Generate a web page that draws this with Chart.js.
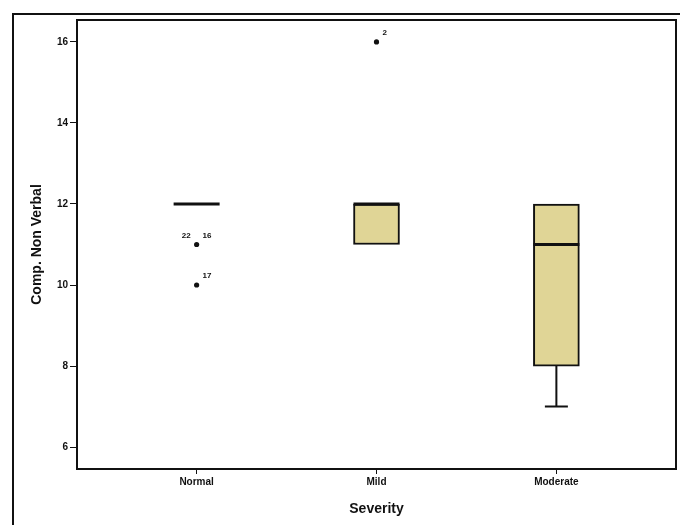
<!DOCTYPE html>
<html>
<head>
<meta charset="utf-8">
<script src="https://cdn.jsdelivr.net/npm/chart.js@4.4.1/dist/chart.umd.min.js"></script>
<style>
  html, body { margin: 0; padding: 0; background: #fff; }
  canvas { display: block; }
</style>
</head>
<body>
<canvas id="c" width="680" height="525"></canvas>
<script>
// Box plot of Comp. Non Verbal scores by severity group
const categories   = ['Normal', 'Mild', 'Moderate'];
const whiskerLow   = [12, 11, 7];
const quartile1    = [12, 11, 8];
const medians      = [12, 12, 11];
const quartile3    = [12, 12, 12];
const whiskerHigh  = [12, 12, 12];

// Outlying cases: group position (1-based), value, case numbers
const outlierCategory = [1, 1, 2];
const outlierValues   = [11, 10, 16];
const outlierCases    = [['22', '16'], ['17'], ['2']];

const yTickValues = [6, 8, 10, 12, 14, 16];

const BOX_FILL = '#e0d596';
const INK = '#111';
const FONT = '"Liberation Sans", Arial, sans-serif';

const boxParts = {
  id: 'boxParts',
  afterDatasetsDraw(chart) {
    const { ctx, scales: { x, y } } = chart;
    const meta = chart.getDatasetMeta(0);
    ctx.save();
    ctx.strokeStyle = INK;
    ctx.lineCap = 'butt';
    categories.forEach((c, i) => {
      const cx = x.getPixelForValue(i + 1);
      const bar = meta.data[i];
      const half = bar ? bar.width / 2 : 23;
      // whiskers and caps
      ctx.lineWidth = 2;
      [[quartile1[i], whiskerLow[i]], [quartile3[i], whiskerHigh[i]]].forEach(([from, to]) => {
        if (from === to) return;
        const y0 = y.getPixelForValue(from), y1 = y.getPixelForValue(to);
        ctx.beginPath();
        ctx.moveTo(cx, y0); ctx.lineTo(cx, y1);
        ctx.moveTo(cx - half / 2, y1); ctx.lineTo(cx + half / 2, y1);
        ctx.stroke();
      });
      // median
      const my = y.getPixelForValue(medians[i]);
      ctx.lineWidth = 3;
      ctx.beginPath();
      ctx.moveTo(cx - half, my); ctx.lineTo(cx + half, my);
      ctx.stroke();
    });
    // case numbers beside outlying points
    ctx.fillStyle = INK;
    ctx.font = 'bold 8px ' + FONT;
    ctx.textBaseline = 'middle';
    outlierValues.forEach((v, k) => {
      const px = x.getPixelForValue(outlierCategory[k]);
      const py = y.getPixelForValue(v) - 9;
      const ids = outlierCases[k];
      if (ids.length > 1) {
        ctx.textAlign = 'right';
        ctx.fillText(ids[0], px - 6, py);
        ctx.textAlign = 'left';
        ctx.fillText(ids[1], px + 6, py);
      } else {
        ctx.textAlign = 'left';
        ctx.fillText(ids[0], px + 6, py);
      }
    });
    ctx.restore();
  },
  afterDraw(chart) {
    const { ctx, chartArea: a } = chart;
    ctx.save();
    ctx.strokeStyle = INK;
    ctx.lineWidth = 2;
    ctx.strokeRect(a.left, a.top, a.right - a.left, a.bottom - a.top);
    // outer frame
    ctx.beginPath();
    ctx.moveTo(13, chart.height + 2);
    ctx.lineTo(13, 14);
    ctx.lineTo(chart.width + 2, 14);
    ctx.stroke();
    ctx.restore();
  }
};

new Chart(document.getElementById('c'), {
  data: {
    datasets: [
      {
        type: 'bar',
        data: categories.map((c, i) => ({ x: i + 1, y: [quartile1[i], quartile3[i]] })),
        backgroundColor: BOX_FILL,
        borderColor: INK,
        borderWidth: 2,
        borderSkipped: false,
        barThickness: 46
      },
      {
        type: 'scatter',
        data: outlierValues.map((v, k) => ({ x: outlierCategory[k], y: v })),
        pointRadius: 2.6,
        pointBackgroundColor: INK,
        pointBorderColor: INK,
        pointBorderWidth: 0
      }
    ]
  },
  options: {
    responsive: false,
    animation: false,
    devicePixelRatio: 1,
    layout: { padding: { top: 20, right: 2, bottom: 0, left: 0 } },
    plugins: { legend: { display: false }, tooltip: { enabled: false } },
    scales: {
      x: {
        type: 'linear',
        offset: false,
        min: 0.335,
        max: 3.665,
        afterBuildTicks: s => { s.ticks = categories.map((c, i) => ({ value: i + 1 })); },
        afterFit: s => { s.height = 56; },
        ticks: {
          callback: v => categories[Math.round(v) - 1] || '',
          color: INK,
          font: { family: FONT, size: 10, weight: 'bold' },
          padding: 2,
          maxRotation: 0,
          autoSkip: false
        },
        grid: { display: true, offset: false, drawOnChartArea: false, drawTicks: true, tickLength: 5, color: INK, lineWidth: 1 },
        border: { display: false },
        title: {
          display: true,
          text: 'Severity',
          color: INK,
          font: { family: FONT, size: 14, weight: 'bold' },
          padding: { top: 0, bottom: 7 }
        }
      },
      y: {
        min: 5.46,
        max: 16.54,
        afterBuildTicks: s => { s.ticks = yTickValues.map(v => ({ value: v })); },
        afterFit: s => { s.width = 77; },
        ticks: {
          color: INK,
          font: { family: FONT, size: 10, weight: 'bold' },
          padding: 2
        },
        grid: { display: true, drawOnChartArea: false, drawTicks: true, tickLength: 7, color: INK, lineWidth: 1 },
        border: { display: false },
        title: {
          display: true,
          text: 'Comp. Non Verbal',
          color: INK,
          font: { family: FONT, size: 14, weight: 'bold' },
          padding: { top: 29, bottom: 0 }
        }
      }
    }
  },
  plugins: [boxParts]
});
</script>
</body>
</html>
